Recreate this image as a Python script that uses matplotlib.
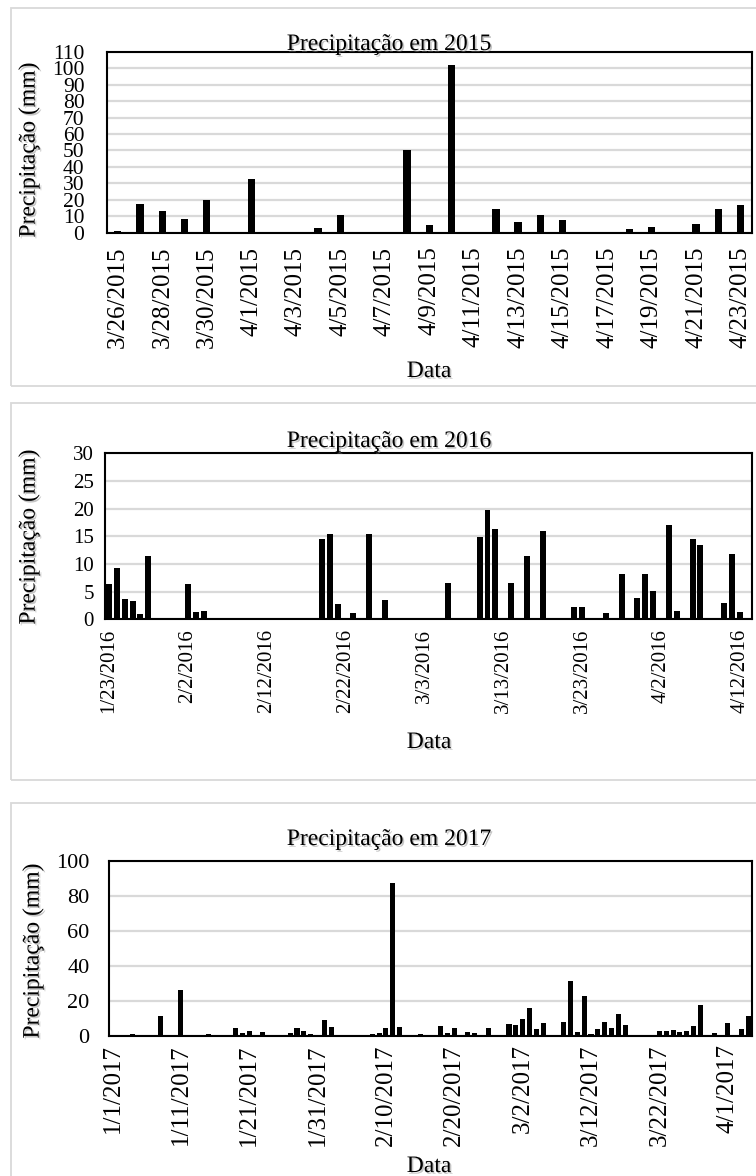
import matplotlib
matplotlib.use("Agg")
import matplotlib.pyplot as plt
import matplotlib.patheffects as pe
from matplotlib.patches import Rectangle
import numpy as np
import pandas as pd

plt.rcParams['font.family'] = ['Liberation Serif', 'DejaVu Serif']

W, H = 756, 1176

# precipitação diária (mm)
dias_2015 = pd.date_range('2015-03-26', '2015-04-23')
chuva_2015 = [1.0, 17.2, 13.1, 8.5, 19.6, 0, 32.9, 0, 0, 2.6,
              10.7, 0, 0, 50.1, 4.6, 102.2, 0, 14.7, 6.3, 10.7,
              7.9, 0, 0, 2.4, 3.2, 0, 5.5, 14.7, 16.6]

dias_2016 = pd.date_range('2016-01-23', '2016-04-13')
chuva_2016 = [6.3, 9.2, 3.7, 3.25, 0.9, 11.4, 0, 0, 0, 0,
              6.45, 1.3, 1.5, 0, 0, 0, 0, 0, 0, 0,
              0, 0, 0, 0, 0, 0, 0, 14.6, 15.4, 2.7,
              0, 1.1, 0, 15.4, 0, 3.4, 0, 0, 0, 0,
              0, 0, 0, 6.6, 0, 0, 0, 14.8, 19.8, 16.4,
              0, 6.6, 0, 11.4, 0, 16.0, 0, 0, 0, 2.2,
              2.2, 0, 0, 1.1, 0, 8.1, 0, 3.8, 8.1, 5.2,
              0, 17.0, 1.45, 0, 14.6, 13.4, 0, 0, 2.9, 11.8,
              1.3, 0]

dias_2017 = pd.date_range('2017-01-01', '2017-04-04')
chuva_2017 = [0, 0, 0, 0.8, 0, 0, 0, 11.4, 0, 0,
              26.2, 0, 0, 0, 1.3, 0, 0, 0, 4.6, 1.5,
              2.5, 0, 1.9, 0, 0, 0, 1.5, 4.4, 2.5, 1.3,
              0, 8.9, 4.9, 0, 0, 0, 0, 0, 1.3, 1.5,
              4.6, 87.3, 5.1, 0, 0, 0.8, 0, 0, 5.7, 1.7,
              4.2, 0, 1.9, 1.7, 0, 4.7, 0, 0, 6.5, 6.3,
              9.5, 15.7, 3.8, 7.4, 0, 0, 7.8, 31.3, 2.3, 22.8,
              1.1, 3.6, 7.8, 4.6, 12.7, 6.1, 0, 0, 0, 0,
              3.0, 2.7, 3.2, 1.9, 2.5, 5.5, 17.5, 0, 1.7, 0,
              7.2, 0, 3.6, 11.2]

ticks_2015 = np.arange(0, 111, 10)
ticks_2016 = np.arange(0, 31, 5)
ticks_2017 = np.arange(0, 101, 20)

sombra = [pe.SimplePatchShadow(offset=(1.2, -1.2), shadow_rgbFace='0.55', alpha=0.5), pe.Normal()]


def fx(x):
    return x / W


def fy(y):
    return 1 - y / H


def painel(fig, moldura, eixo, dias, chuva, ano, yticks, passo, largura,
           fs_x, fs_y, pad_x, pad_y, y_titulo, y_data, ylabel_xy):
    # moldura cinza do gráfico (lado direito fica fora da imagem)
    top, bottom = moldura
    fig.patches.append(Rectangle((fx(10.5), fy(bottom)), fx(770), (bottom - top) / H,
                                 transform=fig.transFigure, fill=False,
                                 edgecolor='#d9d9d9', lw=1.3))

    left, right, atop, abot = eixo
    ax = fig.add_axes([fx(left), fy(abot), (right - left) / W, (abot - atop) / H])
    x = np.arange(len(dias))
    ax.bar(x, chuva, width=largura, color='black', zorder=3)
    ax.set_xlim(-0.5, len(dias) - 0.5)
    ax.set_ylim(yticks[0], yticks[-1])
    ax.set_yticks(yticks)
    ax.set_yticklabels([str(v) for v in yticks], fontsize=fs_y)
    pos = np.arange(0, len(dias), passo)
    ax.set_xticks(pos)
    ax.set_xticklabels([f"{d.month}/{d.day}/{d.year}" for d in dias[pos]],
                       rotation=90, fontsize=fs_x, va='top', ha='center')
    ax.tick_params(length=0)
    ax.tick_params(axis='x', pad=pad_x)
    ax.tick_params(axis='y', pad=pad_y)
    ax.grid(axis='y', color='#d9d9d9', lw=1.6, zorder=0)
    ax.set_axisbelow(True)
    for s in ax.spines.values():
        s.set_linewidth(1.5)
        s.set_color('black')

    fig.text(fx(389), fy(y_titulo), f"Precipitação em {ano}", ha='center',
             va='baseline', fontsize=17, path_effects=sombra)
    fig.text(fx(429), fy(y_data), "Data", ha='center', va='baseline',
             fontsize=17, path_effects=sombra)
    fig.text(fx(ylabel_xy[0]), fy(ylabel_xy[1]), "Precipitação (mm)", rotation=90,
             ha='center', va='center', fontsize=17, path_effects=sombra)
    return ax


fig = plt.figure(figsize=(W / 100, H / 100), dpi=100)

painel(fig, (7.5, 386), (106.7, 751.7, 51.7, 232.7), dias_2015, chuva_2015, 2015,
       ticks_2015, 2, 0.33, 18, 15.5, 10, 16, 50, 377, (29, 150))
painel(fig, (403, 780), (105, 751.7, 453.3, 619.3), dias_2016, chuva_2016, 2016,
       ticks_2016, 10, 0.76, 15, 15, 7, 8, 447, 748, (29, 537))
painel(fig, (803, 1190), (109, 751.7, 860.7, 1035.8), dias_2017, chuva_2017, 2017,
       ticks_2017, 10, 0.74, 18, 16, 6, 14, 845, 1172, (33, 951))

fig.savefig('out.png', dpi=100)
